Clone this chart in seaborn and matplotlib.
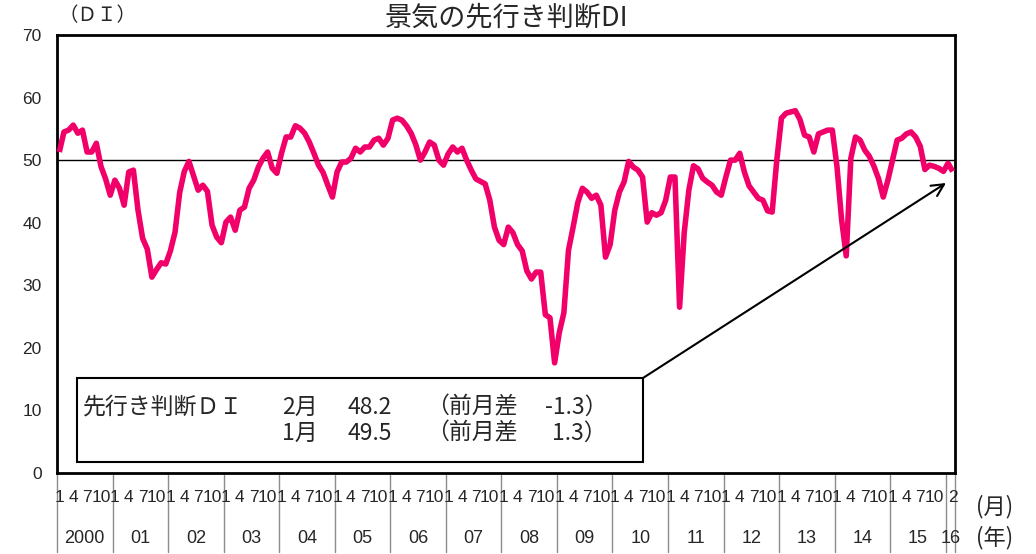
import matplotlib
matplotlib.use("Agg")
import numpy as np
import pandas as pd
import matplotlib.pyplot as plt
import matplotlib.patches as patches
import matplotlib.transforms as mtransforms
import seaborn as sns

# ── data ────────────────────────────────────────────────────────────────────
years = ["2000", "01", "02", "03", "04", "05", "06", "07",
         "08", "09", "10", "11", "12", "13", "14", "15", "16"]
month_ticks = [1, 4, 7, 10]
month_ticks_last = [2]

di_2000 = [51.3, 54.5, 54.8, 55.6, 54.3, 54.8, 51.3, 51.3, 52.7, 49.0, 47.0, 44.4]
di_2001 = [46.8, 45.5, 42.8, 48.1, 48.4, 42.0, 37.5, 35.8, 31.3, 32.5, 33.6, 33.4]
di_2002 = [35.5, 38.5, 44.8, 48.2, 49.8, 47.5, 45.2, 46.0, 45.0, 39.6, 37.7, 36.8]
di_2003 = [40.1, 40.9, 38.8, 42.0, 42.5, 45.5, 46.8, 48.9, 50.3, 51.3, 48.7, 47.9]
di_2004 = [51.1, 53.7, 53.7, 55.5, 55.1, 54.3, 52.9, 51.1, 49.2, 48.0, 46.0, 44.1]
di_2005 = [48.1, 49.7, 49.7, 50.3, 51.9, 51.3, 52.1, 52.1, 53.2, 53.5, 52.4, 53.5]
di_2006 = [56.4, 56.7, 56.4, 55.5, 54.3, 52.5, 50.0, 51.3, 52.9, 52.4, 50.0, 49.2]
di_2007 = [51.0, 52.1, 51.3, 51.9, 50.0, 48.4, 47.0, 46.6, 46.2, 43.6, 39.3, 37.2]
di_2008 = [36.5, 39.3, 38.4, 36.5, 35.5, 32.3, 31.0, 32.1, 32.1, 25.3, 24.8, 17.6]
di_2009 = [22.4, 25.6, 35.6, 39.3, 43.2, 45.5, 44.9, 43.9, 44.4, 42.8, 34.5, 36.5]
di_2010 = [42.0, 44.9, 46.5, 49.8, 48.9, 48.4, 47.3, 40.1, 41.6, 41.2, 41.6, 43.6]
di_2011 = [47.3, 47.3, 26.5, 38.4, 45.2, 49.1, 48.6, 47.1, 46.5, 46.0, 44.9, 44.4]
di_2012 = [47.3, 50.0, 50.0, 51.1, 48.1, 45.9, 44.9, 43.9, 43.6, 41.9, 41.7, 50.0]
di_2013 = [56.7, 57.5, 57.7, 57.9, 56.5, 54.0, 53.7, 51.3, 54.2, 54.5, 54.8, 54.8]
di_2014 = [49.0, 40.5, 34.7, 50.3, 53.7, 53.2, 51.6, 50.6, 49.0, 47.0, 44.1, 46.8]
di_2015 = [50.0, 53.2, 53.5, 54.2, 54.5, 53.7, 52.2, 48.5, 49.2, 49.0, 48.7, 48.2]
di_2016 = [49.5, 48.2]

per_year = [di_2000, di_2001, di_2002, di_2003, di_2004, di_2005, di_2006,
            di_2007, di_2008, di_2009, di_2010, di_2011, di_2012, di_2013,
            di_2014, di_2015, di_2016]

values = [v for yr in per_year for v in yr]
df = pd.DataFrame({"idx": np.arange(len(values)), "di": values})
n = len(df)

LINE_COLOR = "#F2006A"
CJK = ["Noto Sans CJK JP", "DejaVu Sans"]

sns.set_style("white")
plt.rcParams["font.family"] = ["Liberation Sans", "Noto Sans CJK JP", "DejaVu Sans"]

fig = plt.figure(figsize=(10.36, 5.54), dpi=100)
ax = fig.add_axes([57 / 1036, 81 / 554, 898 / 1036, 438 / 554])

sns.lineplot(data=df, x="idx", y="di", color=LINE_COLOR, lw=4,
             solid_capstyle="butt", ax=ax, zorder=3)
ax.axhline(50, color="black", lw=1, zorder=2)

ax.set_xlim(-0.5, n - 0.5)
ax.set_ylim(0, 70)
ax.set_yticks(range(0, 71, 10))
ax.tick_params(axis="y", length=0, pad=11, labelsize=12.5)
ax.set_xticks([])
ax.set_xlabel("")
ax.set_ylabel("")
for sp in ax.spines.values():
    sp.set_visible(True)
    sp.set_color("black")
    sp.set_linewidth(2)

# ── custom two-row x axis ─────────────────────────────────────────────────
trans = mtransforms.blended_transform_factory(ax.transData, ax.transAxes)
start = 0
for k, yr in enumerate(per_year):
    length = len(yr)
    ax.plot([start - 0.5, start - 0.5], [-0.005, -0.18], color="#8c8c8c",
            lw=1, transform=trans, clip_on=False)
    ticks = month_ticks if length == 12 else month_ticks_last
    for m in ticks:
        ax.text(start + m - 1, -0.056, str(m), transform=trans,
                ha="center", va="center", fontsize=12.5)
    ax.text(start + (length - 1) / 2, -0.149, years[k], transform=trans,
            ha="center", va="center", fontsize=13)
    start += length
ax.plot([n - 0.5, n - 0.5], [-0.005, -0.18], color="#8c8c8c",
        lw=1, transform=trans, clip_on=False)

fig.text(995 / 1036, 1 - 507 / 554, "(月)", family=CJK, fontsize=16,
         ha="center", va="center")
fig.text(995 / 1036, 1 - 538 / 554, "(年)", family=CJK, fontsize=16,
         ha="center", va="center")

# titles
fig.text(507 / 1036, 1 - 18 / 554, "景気の先行き判断DI", family=CJK,
         fontsize=19.5, ha="center", va="center")
fig.text(97 / 1036, 1 - 16 / 554, "（ＤＩ）", family=CJK,
         fontsize=14, ha="center", va="center")

# ── annotation box ────────────────────────────────────────────────────────
bx0, bx1 = (77 - 57) / 898, (643 - 57) / 898
by0, by1 = (473 - 462) / 438, (473 - 378) / 438
ax.add_patch(patches.Rectangle((bx0, by0), bx1 - bx0, by1 - by0,
                               transform=ax.transAxes, facecolor="white",
                               edgecolor="black", lw=1.5, zorder=5,
                               clip_on=False))

last, prev, prev2 = values[-1], values[-2], values[-3]
rows = [("2月", last, last - prev), ("1月", prev, prev - prev2)]
row_y = [(473 - 407) / 438, (473 - 433) / 438]
tkw = dict(transform=ax.transAxes, family=CJK, fontsize=16.5, va="center", zorder=6)
ax.text((83 - 57) / 898, row_y[0], "先行き判断ＤＩ", ha="left", **tkw)
for (lab, val, diff), yy in zip(rows, row_y):
    ax.text((282 - 57) / 898, yy, lab, ha="left", **tkw)
    ax.text((348 - 57) / 898, yy, f"{val:.1f}", ha="left", **tkw)
    ax.text((426 - 57) / 898, yy, "（前月差", ha="left", **tkw)
    ax.text((607 - 57) / 898, yy, f"{diff:.1f}）", ha="right", **tkw)

ax.annotate("", xy=((946 - 57) / 898, (473 - 183) / 438),
            xytext=(bx1, by1), xycoords="axes fraction",
            arrowprops=dict(arrowstyle="->", color="black", lw=1.5,
                            mutation_scale=22, shrinkA=0, shrinkB=0),
            zorder=6)

fig.savefig("out.png", dpi=100)
